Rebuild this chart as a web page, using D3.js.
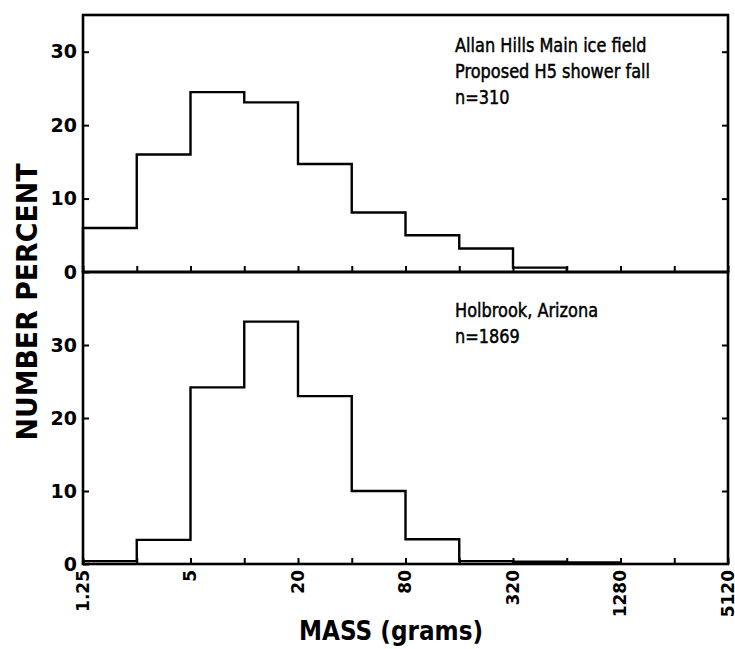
<!DOCTYPE html>
<html>
<head>
<meta charset="utf-8">
<script src="https://cdn.jsdelivr.net/npm/d3@7"></script>
<style>
  body { margin: 0; background: #fff; }
  text { font-family: "DejaVu Sans", sans-serif; fill: #000; }
</style>
</head>
<body>
<svg id="chart" width="735" height="649"></svg>
<script>
// mass bin edges (grams), each bin is one doubling
const binEdges = [1.25, 2.5, 5, 10, 20, 40, 80, 160, 320, 640, 1280, 2560, 5120];
const massLabels = [1.25, 5, 20, 80, 320, 1280, 5120];

// number percent per bin
const allanHills = [6.0, 16.0, 24.5, 23.1, 14.7, 8.1, 5.0, 3.2, 0.6];
const holbrook = [0.4, 3.3, 24.2, 33.2, 23.0, 10.0, 3.4, 0.4, 0.3, 0.2];

const yTicks = [0, 10, 20, 30];
const allanNotes = ["Allan Hills Main ice field", "Proposed H5 shower fall", "n=310"];
const holbrookNotes = ["Holbrook, Arizona", "n=1869"];

const svg = d3.select("#chart");

const plotLeft = 83, plotRight = 728, plotTop = 15, plotMid = 272, plotBottom = 564;

const x = d3.scaleLog().base(2)
  .domain([binEdges[0], binEdges[binEdges.length - 1]])
  .range([plotLeft, plotRight]);

const yTop = d3.scaleLinear().domain([0, 35]).range([plotMid, plotTop]);
const yBottom = d3.scaleLinear().domain([0, 40]).range([plotBottom, plotMid]);

const stepPoints = (values) => {
  const pts = [{x: binEdges[0], y: 0}];
  values.forEach((v, i) => pts.push({x: binEdges[i], y: v}));
  pts.push({x: binEdges[values.length], y: 0});
  return pts;
};

// squeeze text horizontally, the original lettering is narrow
const condense = (sel, factor) => {
  sel.each(function () {
    const w = this.getComputedTextLength();
    d3.select(this)
      .attr("textLength", w * factor)
      .attr("lengthAdjust", "spacingAndGlyphs");
  });
};

const drawPanel = (yScale, values, notes, noteY, showLabels) => {
  const g = svg.append("g");
  const [y0, y1] = yScale.range();

  // bottom ticks (inward)
  const xAxis = d3.axisBottom(x)
    .tickValues(binEdges)
    .tickSize(-6)
    .tickFormat((d) => showLabels && massLabels.includes(d) ? d3.format("")(d) : "");
  const xg = g.append("g").attr("transform", `translate(0, ${y0})`).call(xAxis);
  xg.select(".domain").remove();
  xg.selectAll(".tick line").attr("stroke", "#000").attr("stroke-width", 2);
  xg.selectAll(".tick text")
    .attr("transform", "rotate(-90)")
    .attr("text-anchor", "end")
    .attr("x", -6)
    .attr("y", 0)
    .attr("dy", "0.32em")
    .style("font-size", "17px")
    .style("font-weight", "bold");

  // left ticks and labels
  const yAxis = d3.axisLeft(yScale).tickValues(yTicks).tickSize(-6).tickPadding(6)
    .tickFormat(d3.format("d"));
  const yg = g.append("g").attr("transform", `translate(${plotLeft}, 0)`).call(yAxis);
  yg.select(".domain").remove();
  yg.selectAll(".tick line").attr("stroke", "#000").attr("stroke-width", 2);
  yg.selectAll(".tick text")
    .style("font-size", "19px")
    .style("font-weight", "bold");

  // right ticks
  const rAxis = d3.axisRight(yScale).tickValues(yTicks.slice(1)).tickSize(-6).tickFormat("");
  const rg = g.append("g").attr("transform", `translate(${plotRight}, 0)`).call(rAxis);
  rg.select(".domain").remove();
  rg.selectAll(".tick line").attr("stroke", "#000").attr("stroke-width", 2);

  // histogram outline
  const line = d3.line()
    .x((d) => x(d.x))
    .y((d) => yScale(d.y))
    .curve(d3.curveStepAfter);
  g.append("path")
    .datum(stepPoints(values))
    .attr("d", line)
    .attr("fill", "none")
    .attr("stroke", "#000")
    .attr("stroke-width", 2.4);

  // frame
  g.append("rect")
    .attr("x", plotLeft)
    .attr("y", y1)
    .attr("width", plotRight - plotLeft)
    .attr("height", y0 - y1)
    .attr("fill", "none")
    .attr("stroke", "#000")
    .attr("stroke-width", 2.6);

  // annotation
  const notesSel = g.selectAll("text.note")
    .data(notes)
    .enter()
    .append("text")
    .attr("class", "note")
    .attr("x", 455)
    .attr("y", (d, i) => noteY + i * 26)
    .style("font-size", "19px")
    .style("stroke", "#000")
    .style("stroke-width", 0.5)
    .text((d) => d);
  condense(notesSel, 0.85);
};

drawPanel(yTop, allanHills, allanNotes, 52, false);
drawPanel(yBottom, holbrook, holbrookNotes, 317, true);

// axis titles
svg.append("text")
  .attr("transform", `translate(37, 302) rotate(-90)`)
  .attr("text-anchor", "middle")
  .attr("textLength", 277)
  .attr("lengthAdjust", "spacingAndGlyphs")
  .style("font-size", "29px")
  .style("font-weight", "bold")
  .text("NUMBER PERCENT");

svg.append("text")
  .attr("x", 391)
  .attr("y", 640)
  .attr("text-anchor", "middle")
  .attr("textLength", 184)
  .attr("lengthAdjust", "spacingAndGlyphs")
  .style("font-size", "26px")
  .style("font-weight", "bold")
  .text("MASS (grams)");
</script>
</body>
</html>
